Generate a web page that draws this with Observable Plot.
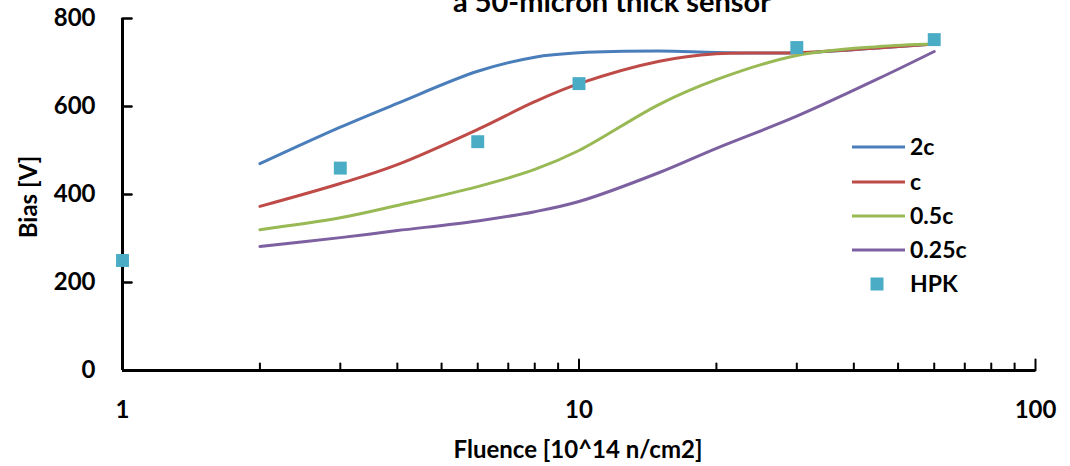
<!DOCTYPE html>
<html><head><meta charset="utf-8">
<script src="https://cdn.jsdelivr.net/npm/d3@7"></script>
<script src="https://cdn.jsdelivr.net/npm/@observablehq/plot@0.6"></script>
<style>
html,body{margin:0;padding:0;background:#fff;}
#chart{width:1070px;height:466px;overflow:hidden;position:relative;}
</style>
</head><body><div id="chart"></div>
<script>
// ---- data ----
const fluence = [2, 3, 4, 6, 8, 10, 15, 20, 30, 45, 60];
const bias2c = [470, 553, 607, 680, 712, 722, 726, 723, 722, 733, 742];
const biasC = [373, 425, 468, 548, 611, 652, 703, 720, 722, 733, 742];
const bias05c = [320, 347, 375, 418, 457, 500, 605, 661, 716, 736, 742];
const bias025c = [282, 302, 318, 340, 361, 384, 450, 505, 578, 662, 725];
const hpkFluence = [1, 3, 6, 10, 30, 60];
const hpkBias = [250, 460, 520, 652, 734, 752];

const seriesNames = ["2c", "c", "0.5c", "0.25c"];
const seriesColors = ["#4A7EBB", "#BE4B48", "#98B954", "#7D60A0"];
const hpkName = "HPK";
const hpkColor = "#4BACC6";

const yTicks = [0, 200, 400, 600, 800];
const xMajor = [1, 10, 100];
const xMinor = [2, 3, 4, 5, 6, 7, 8, 9, 20, 30, 40, 50, 60, 70, 80, 90];

const titleText = "a 50-micron thick sensor";
const xLabel = "Fluence [10^14 n/cm2]";
const yLabel = "Bias [V]";

// ---- tables ----
const seriesValues = [bias2c, biasC, bias05c, bias025c];
const lines = seriesNames.flatMap((s, k) => fluence.map((f, i) => ({series: s, x: f, y: seriesValues[k][i]})));
const hpk = hpkFluence.map((f, i) => ({x: f, y: hpkBias[i]}));

const up = {draw(ctx, l) { ctx.moveTo(0, 0); ctx.lineTo(0, -l); }};
const FONT = "Lato, 'Open Sans', sans-serif";

const W = 1070, H = 466;
const chart = Plot.plot({
  width: W, height: H,
  marginLeft: 122, marginRight: 35, marginTop: 18, marginBottom: 96,
  style: {fontFamily: FONT, background: "#fff", color: "#000"},
  x: {type: "log", domain: [1, 100]},
  y: {domain: [0, 800]},
  color: {domain: seriesNames, range: seriesColors},
  marks: [
    Plot.axisY({ticks: yTicks, tickSize: 0, tickPadding: 27, fontSize: 24, fontWeight: "bold", label: null, tickFormat: d => String(d)}),
    Plot.axisX({ticks: xMajor, tickSize: 0, tickPadding: 30, fontSize: 24, fontWeight: "bold", label: null, tickFormat: d => String(d)}),
    Plot.line(lines, {x: "x", y: "y", z: "series", stroke: "series", strokeWidth: 3, curve: "catmull-rom"}),
    Plot.ruleX([1], {y1: 0, y2: 800, stroke: "#000", strokeWidth: 3}),
    Plot.ruleY([0], {x1: 1, x2: 100, stroke: "#000", strokeWidth: 3}),
    Plot.vector(yTicks.filter(t => t > 0), {x: 1, y: d => d, length: 9, rotate: 90, anchor: "start", shape: up, stroke: "#000", strokeWidth: 2.5}),
    Plot.vector(xMajor.filter(t => t > 1), {x: d => d, y: 0, length: 11, rotate: 0, anchor: "start", shape: up, stroke: "#000", strokeWidth: 2}),
    Plot.vector(xMinor, {x: d => d, y: 0, length: 7, rotate: 0, anchor: "start", shape: up, stroke: "#000", strokeWidth: 2}),
    Plot.dot(hpk, {x: "x", y: "y", symbol: "square", r: 7.3, fill: hpkColor, stroke: "none"})
  ]
});
document.getElementById("chart").appendChild(chart);

const svg = d3.select(chart);
// title (partially cut at the top, as in the reference)
svg.append("text").attr("x", 612).attr("y", 12).attr("text-anchor", "middle")
  .attr("font-family", FONT).attr("font-weight", "bold").attr("font-size", 29).attr("fill", "#000")
  .text(titleText);
// axis titles
svg.append("text").attr("x", 578).attr("y", 458).attr("text-anchor", "middle")
  .attr("font-family", FONT).attr("font-weight", "bold").attr("font-size", 24).attr("fill", "#000")
  .text(xLabel);
svg.append("text").attr("transform", "translate(37,197) rotate(-90)").attr("text-anchor", "middle")
  .attr("font-family", FONT).attr("font-weight", "bold").attr("font-size", 24).attr("fill", "#000")
  .text(yLabel);
// legend
const legY = [147, 182, 216, 250];
const lg = svg.append("g").attr("text-anchor", "start");
seriesNames.forEach((s, i) => {
  lg.append("line").attr("x1", 852).attr("x2", 905).attr("y1", legY[i]).attr("y2", legY[i])
    .attr("stroke", seriesColors[i]).attr("stroke-width", 3);
  lg.append("text").attr("x", 910).attr("y", legY[i]).attr("dy", "0.35em").attr("text-anchor", "start")
    .attr("font-family", FONT).attr("font-weight", "bold").attr("font-size", 23).attr("fill", "#000").text(s);
});
lg.append("rect").attr("x", 877 - 6.5).attr("y", 284 - 6.5).attr("width", 13).attr("height", 13).attr("fill", hpkColor);
lg.append("text").attr("x", 910).attr("y", 284).attr("dy", "0.35em").attr("text-anchor", "start")
  .attr("font-family", FONT).attr("font-weight", "bold").attr("font-size", 23).attr("fill", "#000").text(hpkName);
</script>
</body></html>
